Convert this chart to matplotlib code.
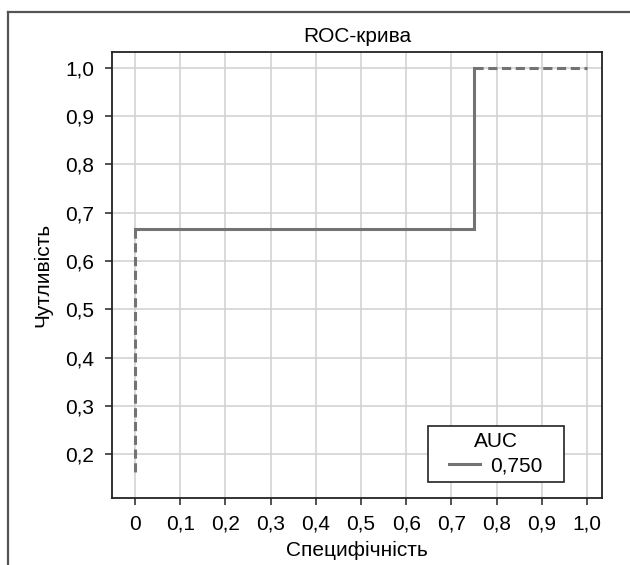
import matplotlib.pyplot as plt
from matplotlib.lines import Line2D
from matplotlib.offsetbox import DrawingArea

plt.rcParams['font.family'] = ['Liberation Sans', 'DejaVu Sans']

# ROC points (specificity axis as drawn, sensitivity)
solid_x = [0, 0.75, 0.75]
solid_y = [0.667, 0.667, 1.0]
dash_top_x = [0.75, 1.0]
dash_top_y = [1.0, 1.0]
dash_left_x = [0, 0]
dash_left_y = [0.667, 0.16]
auc = "0,750"

xticks = [0, 0.1, 0.2, 0.3, 0.4, 0.5, 0.6, 0.7, 0.8, 0.9, 1.0]
xlabels = ["0", "0,1", "0,2", "0,3", "0,4", "0,5", "0,6", "0,7", "0,8", "0,9", "1,0"]
yticks = [0.2, 0.3, 0.4, 0.5, 0.6, 0.7, 0.8, 0.9, 1.0]
ylabels = ["0,2", "0,3", "0,4", "0,5", "0,6", "0,7", "0,8", "0,9", "1,0"]

col = '#737373'
fs = 15

fig = plt.figure(figsize=(6.3, 5.65), dpi=100)
ax = fig.add_axes([112/630, 1 - 498/565, (602-112)/630, (498-52)/565])

ax.plot(solid_x, solid_y, color=col, lw=2.2, label=auc, solid_joinstyle='miter')
ax.plot(dash_top_x, dash_top_y, color=col, lw=2.2, ls=(0, (3, 1.5)))
ax.plot(dash_left_x, dash_left_y, color=col, lw=2.2, ls=(0, (3, 1.5)))

ax.set_xlim(-0.051, 1.033)
ax.set_ylim(0.109, 1.033)
ax.set_xticks(xticks)
ax.set_xticklabels(xlabels)
ax.set_yticks(yticks)
ax.set_yticklabels(ylabels)
ax.grid(True, color='#d0d0d0', lw=1.1)
ax.set_axisbelow(True)
for s in ax.spines.values():
    s.set_color('#222222')
    s.set_linewidth(1.3)
ax.tick_params(length=5, width=1.1, color='#222222', labelsize=fs)
ax.tick_params(axis='x', pad=7)
ax.tick_params(axis='y', pad=8)

ax.set_title("ROC-крива", fontsize=fs, pad=7)
ax.set_xlabel("Специфічність", fontsize=fs, labelpad=5)
ax.set_ylabel("Чутливість", fontsize=fs, labelpad=9)

leg = ax.legend(title="AUC", loc='lower right', bbox_to_anchor=(0.922, 0.036),
                borderaxespad=0, fontsize=fs, title_fontsize=fs, fancybox=False,
                framealpha=1, handlelength=1.5, borderpad=0.3, labelspacing=0.25,
                handletextpad=0.5)
leg.get_frame().set_edgecolor('#222222')
leg.get_frame().set_linewidth(1.2)
# widen the legend box sideways only
row = leg._legend_handle_box.get_children()[0].get_children()[0]
row._children.insert(0, DrawingArea(3, 1))
row._children.append(DrawingArea(3, 1))

# outer border (left and top edges)
fig.add_artist(Line2D([8/630, 8/630], [0, 1 - 12/565], color='#555555', lw=1.6))
fig.add_artist(Line2D([8/630, 1], [1 - 12/565, 1 - 12/565], color='#555555', lw=1.6))

fig.savefig('out.png', dpi=100)
